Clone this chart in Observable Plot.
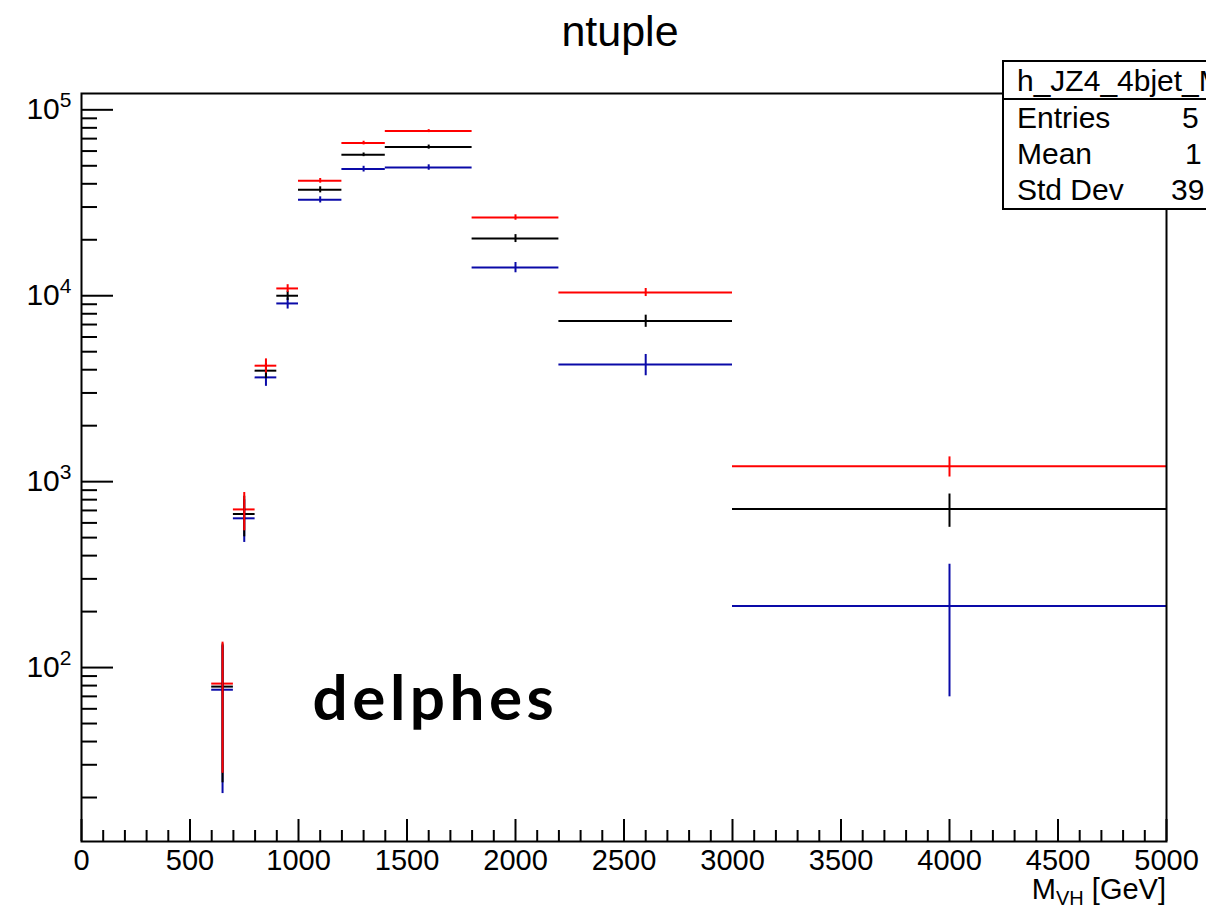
<!DOCTYPE html>
<html>
<head>
<meta charset="utf-8">
<script src="https://cdn.jsdelivr.net/npm/d3@7"></script>
<script src="https://cdn.jsdelivr.net/npm/@observablehq/plot@0.6"></script>
<style>
  html, body { margin: 0; padding: 0; background: #fff; overflow: hidden; }
  #wrap { position: relative; width: 1206px; height: 909px; overflow: hidden; }
  #stats { position: absolute; left: 1002px; top: 60px; width: 260px; background: #fff;
           border: 2px solid #000; font-family: "Liberation Sans", Arial, sans-serif; font-size: 30px; color: #000; }
  #stats .hdr { height: 36px; line-height: 38px; padding-left: 13px; border-bottom: 2px solid #000; white-space: nowrap; }
  #stats .row { position: relative; height: 36px; line-height: 36px; white-space: nowrap; }
  #stats .row:first-of-type { margin-top: 2px; }
  #stats .row .k { position: absolute; left: 13px; }
  #stats .row .v { position: absolute; }
</style>
</head>
<body>
<div id="wrap"></div>
<script>
// ---- data ----
const binLo = [600, 700, 800, 900, 1000, 1200, 1400, 1800, 2200, 3000];
const binHi = [700, 800, 900, 1000, 1200, 1400, 1800, 2200, 3000, 5000];
const redVal   = [82, 709, 4205, 10945, 41520, 66260, 76830, 26360, 10420, 1209];
const redErr   = [55, 165, 370, 520, 1200, 1500, 1400, 880, 520, 150];
const blackVal = [79, 670, 3953, 10000, 37150, 57290, 63020, 20320, 7311, 713];
const blackErr = [55, 165, 370, 580, 1400, 1300, 1600, 1000, 550, 145];
const blueVal  = [76, 635, 3638, 9090, 32800, 47990, 48960, 14190, 4272, 214.6];
const blueErr  = [55, 164, 382, 610, 1250, 1700, 1650, 900, 560, 145];

const xMajor = [0, 500, 1000, 1500, 2000, 2500, 3000, 3500, 4000, 4500, 5000];
const xMinor = d3.range(0, 5001, 100).filter(v => v % 500 !== 0);
const yMajor = [100, 1000, 10000, 100000];
const yMinor = [20,30,40,50,60,70,80,90,200,300,400,500,600,700,800,900,
                2000,3000,4000,5000,6000,7000,8000,9000,20000,30000,40000,50000,60000,70000,80000,90000];

const titleText = "ntuple";
const statsName = "h_JZ4_4bjet_M";
const statsRows = [["Entries", "5"], ["Mean", "1"], ["Std Dev", "39"]];
const tagText = "delphes";

// ---- build table ----
const series = [
  {name: "blue",  color: "#0a0aa8", val: blueVal,  err: blueErr},
  {name: "black", color: "#000000", val: blackVal, err: blackErr},
  {name: "red",   color: "#ff0000", val: redVal,   err: redErr}
];
const rows = [];
for (const s of series) {
  binLo.forEach((lo, i) => rows.push({
    series: s.name, color: s.color, lo, hi: binHi[i], mid: (lo + binHi[i]) / 2,
    v: s.val[i], e1: s.val[i] - s.err[i], e2: s.val[i] + s.err[i]
  }));
}

const W = 1206, H = 909;
const mL = 81, mR = 40, mT = 93, mB = 68;
const fw = W - mL - mR, fh = H - mT - mB;

const fmtPow = v => "10^" + Math.round(Math.log10(v));

const plot = Plot.plot({
  width: W, height: H,
  marginLeft: mL, marginRight: mR, marginTop: mT, marginBottom: mB,
  style: {fontFamily: "'Liberation Sans', Arial, sans-serif", background: "#fff", color: "#000"},
  x: {domain: [0, 5000]},
  y: {type: "log", domain: [11.6, 122400]},
  marks: [
    // tick marks (inside the frame)
    Plot.tickX(xMajor, {x: d => d, insetTop: fh - 22, stroke: "#000", strokeWidth: 2}),
    Plot.tickX(xMinor, {x: d => d, insetTop: fh - 11, stroke: "#000", strokeWidth: 2}),
    Plot.tickY(yMajor, {y: d => d, insetRight: fw - 32, stroke: "#000", strokeWidth: 2}),
    Plot.tickY(yMinor, {y: d => d, insetRight: fw - 16, stroke: "#000", strokeWidth: 2}),
    // axis labels
    Plot.axisX({ticks: xMajor, tickSize: 0, tickPadding: 8, fontSize: 29, tickFormat: d => String(d), label: null}),
    Plot.axisY({ticks: yMajor, tickSize: 0, tickPadding: 10, fontSize: 30, tickFormat: fmtPow, label: null}),
    // horizontal bin-width bars
    Plot.ruleY(rows, {y: "v", x1: "lo", x2: "hi", stroke: "color", strokeWidth: 2}),
    // vertical error bars
    Plot.ruleX(rows, {x: "mid", y1: "e1", y2: "e2", stroke: "color", strokeWidth: 2}),
    // frame
    Plot.frame({stroke: "#000", strokeWidth: 2}),
    // title
    Plot.text([titleText], {frameAnchor: "top", dx: -4, dy: -48, lineAnchor: "bottom", fontSize: 43, fill: "#000"}),
    // tag
    Plot.text([tagText], {x: () => 1065, y: () => 52, textAnchor: "start", lineAnchor: "bottom",
      fontSize: 62, fontWeight: "bold", fontFamily: "Lato, 'Open Sans', sans-serif", fill: "#000"})
  ]
});

const svg = d3.select(plot);

// y tick labels: 10 with raised exponent
svg.selectAll('g[aria-label="y-axis tick label"] text').each(function() {
  const t = d3.select(this);
  const [base, exp] = t.text().split("^");
  t.text(null);
  t.append("tspan").text(base);
  t.append("tspan").attr("font-size", 21).attr("dy", "-0.6em").text(exp);
});

// tag letter spacing
svg.selectAll("text").filter(function() { return d3.select(this).text() === tagText; })
  .attr("letter-spacing", "4.5px");

// x-axis title with subscript
const xs = plot.scale("x");
const xt = svg.append("text")
  .attr("x", xs.apply(5000)).attr("y", H - 10)
  .attr("text-anchor", "end")
  .attr("font-size", 29)
  .attr("font-family", "'Liberation Sans', Arial, sans-serif")
  .attr("fill", "#000");
xt.append("tspan").text("M");
xt.append("tspan").attr("font-size", 20).attr("dy", 6).text("VH");
xt.append("tspan").attr("dy", -6).text(" [GeV]");

const wrap = document.getElementById("wrap");
wrap.appendChild(plot);

// stats box
const box = document.createElement("div");
box.id = "stats";
const hdr = document.createElement("div");
hdr.className = "hdr";
hdr.textContent = statsName;
box.appendChild(hdr);
const vx = [178, 181, 167];
statsRows.forEach(([k, v], i) => {
  const r = document.createElement("div");
  r.className = "row";
  const ks = document.createElement("span"); ks.className = "k"; ks.textContent = k;
  const vs = document.createElement("span"); vs.className = "v"; vs.textContent = v; vs.style.left = vx[i] + "px";
  r.appendChild(ks); r.appendChild(vs);
  box.appendChild(r);
});
wrap.appendChild(box);
</script>
</body>
</html>
